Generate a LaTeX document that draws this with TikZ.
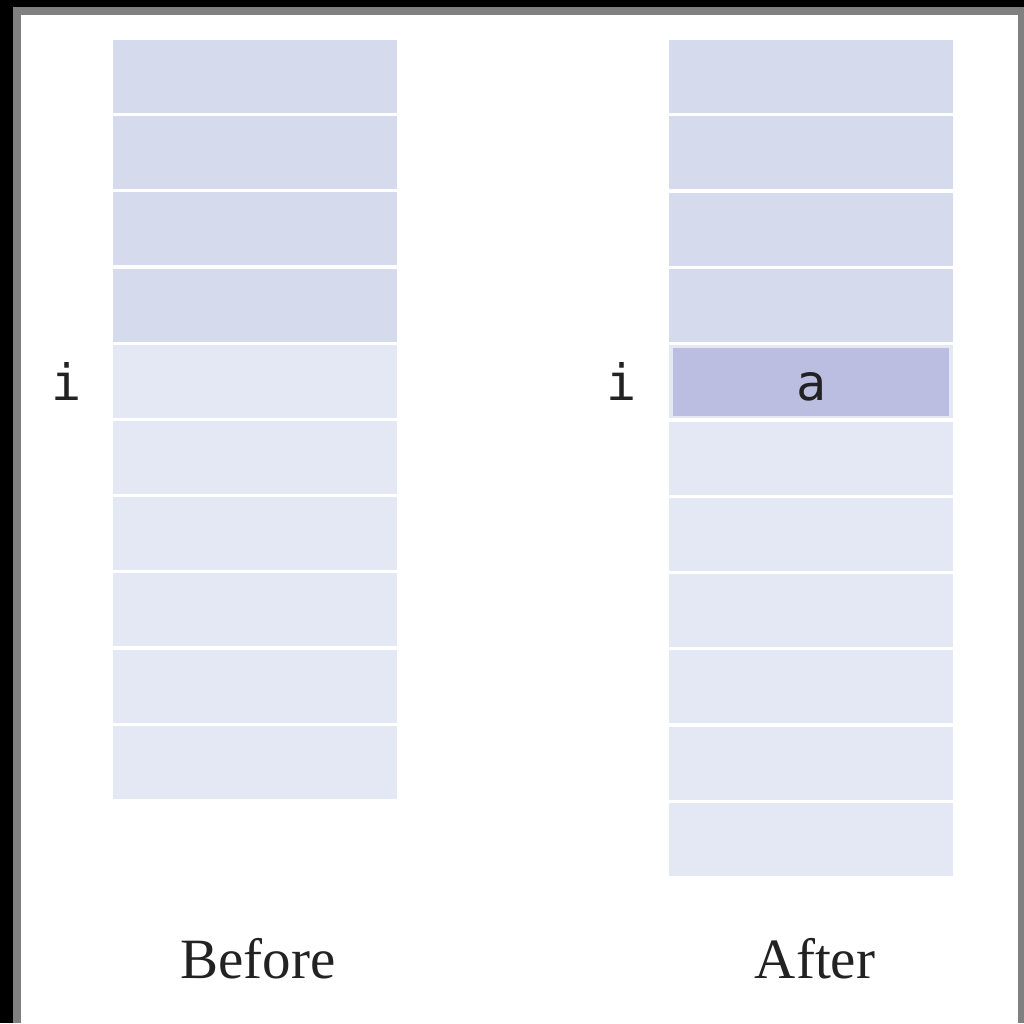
\documentclass[tikz,border=0pt]{standalone}
\usepackage{fontspec}
\setmainfont{Liberation Serif}
\newfontfamily\monof{DejaVu Sans Mono}
\definecolor{framegray}{HTML}{808080}
\definecolor{rowdark}{HTML}{D5DAEC}
\definecolor{rowlight}{HTML}{E4E7F4}
\definecolor{rowhi}{HTML}{BBBEE0}
\definecolor{inkc}{HTML}{222222}
\begin{document}
\begin{tikzpicture}[x=1pt,y=-1pt,
  cellbox/.style={rectangle,inner sep=0pt,outer sep=0pt,draw=none,anchor=north west,minimum width=284pt,minimum height=73pt},
  darkcell/.style={cellbox,fill=rowdark},
  lightcell/.style={cellbox,fill=rowlight},
  hicell/.style={rectangle,inner sep=0pt,outer sep=0pt,anchor=north west,fill=rowhi,minimum width=276pt,minimum height=68pt},
  idx/.style={font=\monof\fontsize{50}{50}\selectfont,text=inkc,anchor=base,inner sep=0pt},
  caption/.style={font=\fontsize{57}{57}\selectfont,text=inkc,anchor=base,inner sep=0pt}]
\useasboundingbox (0,0) rectangle (1024,1023);
\fill[black] (0,0) rectangle (1024,1023);
\fill[framegray] (13,7) rectangle (1024,1023);
\fill[white] (21,15) rectangle (1018,1023);
% Before column
\foreach \k in {0,...,9}{
  \ifnum\k<4
    \node[darkcell] (b\k) at (113,{40+76.2*\k}) {};
  \else
    \node[lightcell] (b\k) at (113,{40+76.2*\k}) {};
  \fi
}
% After column
\foreach \k in {0,...,10}{
  \ifnum\k<4
    \node[darkcell] (a\k) at (669,{40+76.3*\k}) {};
  \else
    \node[lightcell] (a\k) at (669,{40+76.3*\k}) {};
  \fi
}
\node[hicell] (hi) at (673,348) {};
\node[idx] (av) at (812,400) {a};
\node[idx] (ib) at (67,400) {i};
\node[idx] (ia) at (622,400) {i};
\node[caption] (before) at (258,978) {Before};
\node[caption] (after) at (815,978) {After};
\end{tikzpicture}
\end{document}
